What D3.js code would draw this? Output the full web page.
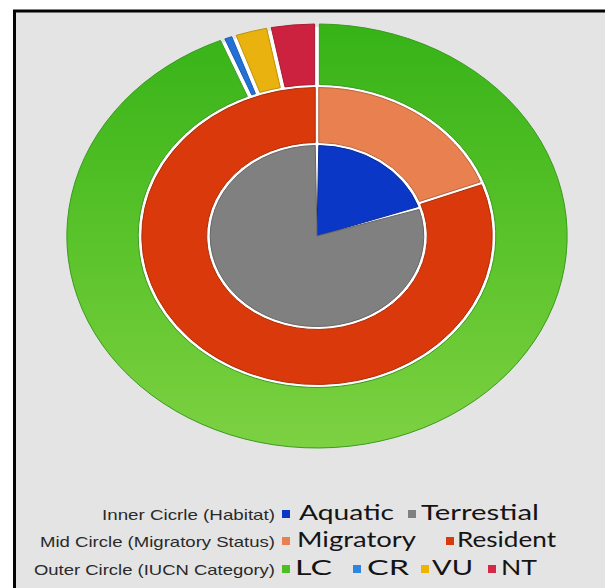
<!DOCTYPE html>
<html>
<head>
<meta charset="utf-8">
<script src="https://cdn.jsdelivr.net/npm/d3@7/dist/d3.min.js"></script>
<style>
  html, body { margin: 0; padding: 0; background: #ffffff; }
  svg { display: block; }
</style>
</head>
<body>
<div id="chart"></div>
<script>
// ---- Data ----
const innerCats   = ["Aquatic", "Terrestial"];
const innerValues = [26, 104];
const midCats     = ["Migratory", "Resident"];
const midValues   = [25, 105];
const outerCats   = ["LC", "CR", "VU", "NT"];
const outerValues = [122, 1, 3, 4];
const legendTitles = ["Inner Cicrle (Habitat)", "Mid Circle (Migratory Status)", "Outer Circle (IUCN Category)"];

// ---- Styles ----
const innerColors = ["#0b37c6", "#808080"];
const midColors   = ["#e8804f", "#da3a0b"];
const outerColors = ["url(#lcGrad)", "#2271d8", "#e9b20e", "#cc2240"];
const outerSwatch = ["#4cbf22", "#2f86e0", "#f0b400", "#d42a48"];

const W = 605, H = 588;
const sx = 1.18;            // horizontal stretch seen in the reference
const cx = 317, cy = 236;

const svg = d3.select("#chart").append("svg")
  .attr("width", W).attr("height", H);

const defs = svg.append("defs");
const g1 = defs.append("linearGradient").attr("id", "lcGrad")
  .attr("gradientUnits", "userSpaceOnUse")
  .attr("x1", 0).attr("y1", -212).attr("x2", 0).attr("y2", 212);
g1.append("stop").attr("offset", "0%").attr("stop-color", "#36b318");
g1.append("stop").attr("offset", "55%").attr("stop-color", "#5dc42c");
g1.append("stop").attr("offset", "100%").attr("stop-color", "#7dd142");

// frame
svg.append("rect")
  .attr("x", 14.5).attr("y", 11).attr("width", 640).attr("height", 620)
  .attr("fill", "#e4e4e4").attr("stroke", "#050505").attr("stroke-width", 3);

const pieG = svg.append("g")
  .attr("transform", `translate(${cx},${cy}) scale(${sx},1)`);

// white base under the rings (shows through the gaps)
pieG.append("circle").attr("r", 209).attr("fill", "#ffffff");

const pie = d3.pie().sort(null).value(d => d);

function ring(values, colors, rIn, rOut, gap, padR, strokeFn) {
  const arc = d3.arc().innerRadius(rIn).outerRadius(rOut)
    .padRadius(padR).padAngle(gap / padR);
  pieG.append("g").selectAll("path")
    .data(pie(values))
    .join("path")
    .attr("d", arc)
    .attr("fill", (d, i) => colors[i])
    .attr("stroke", (d, i) => strokeFn(i))
    .attr("stroke-width", 1)
    .attr("vector-effect", "non-scaling-stroke");
}

ring(outerValues, outerColors, 151.5, 212, 4, 180,
  i => i === 0 ? "#3a9a1f" : d3.color(outerColors[i]).darker(0.6));
ring(midValues, midColors, 93.5, 148.5, 3, 120,
  i => d3.color(midColors[i]).darker(0.7));
ring(innerValues, innerColors, 0, 90.5, 3, 60,
  i => d3.color(innerColors[i]).darker(0.7));

// ---- Legend ----
const rows = [
  { title: legendTitles[0], cats: innerCats, colors: innerColors },
  { title: legendTitles[1], cats: midCats,   colors: midColors },
  { title: legendTitles[2], cats: outerCats, colors: outerSwatch }
];
const baselines = [520, 547, 575];
// x layout of each legend item: [swatchX, textX, textWidth]
const itemLayout = [
  [[282, 299, 95], [408, 421, 118]],
  [[282, 297, 119], [446, 457, 99]],
  [[282, 295, 37], [353, 367, 42], [421, 432, 41], [488, 501, 36]]
];
const titleWidths = [173, 235, 241];

const leg = svg.append("g");
rows.forEach((row, r) => {
  const y = baselines[r];
  leg.append("text")
    .attr("x", 275).attr("y", y)
    .attr("text-anchor", "end")
    .attr("font-family", "'Liberation Sans', Arial, sans-serif")
    .attr("font-size", 14.5)
    .attr("fill", "#2a2a2a")
    .attr("textLength", titleWidths[r])
    .attr("lengthAdjust", "spacingAndGlyphs")
    .text(row.title);
  row.cats.forEach((c, i) => {
    const [sxp, tx, tw] = itemLayout[r][i];
    leg.append("rect")
      .attr("x", sxp).attr("y", y - 10).attr("width", 8).attr("height", 8)
      .attr("fill", row.colors[i] === "url(#lcGrad)" ? "#4cbf22" : row.colors[i]);
    leg.append("text")
      .attr("x", tx).attr("y", y)
      .attr("font-family", "Lato, 'Open Sans', sans-serif")
      .attr("font-size", 20.5)
      .attr("fill", "#141414")
      .attr("textLength", tw)
      .attr("lengthAdjust", "spacingAndGlyphs")
      .text(c);
  });
});
</script>
</body>
</html>
